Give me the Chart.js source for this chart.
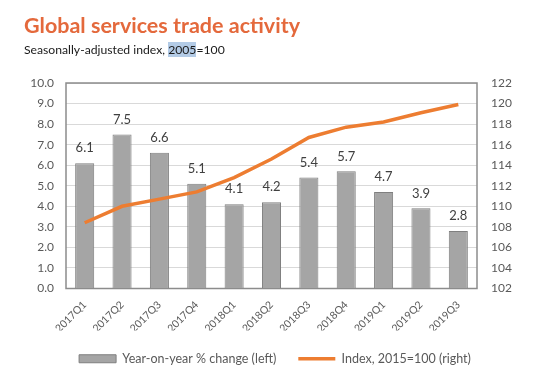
<!DOCTYPE html>
<html>
<head>
<meta charset="utf-8">
<script src="https://cdn.jsdelivr.net/npm/chart.js@4"></script>
<style>
  html, body { margin: 0; padding: 0; background: #fff; }
  body { width: 538px; height: 388px; position: relative; overflow: hidden; font-family: Lato, sans-serif; }
  #title { position: absolute; left: 24px; top: 12px; font-size: 21.5px; font-weight: bold; color: #e4693c; white-space: nowrap; z-index: 2; }
  #subtitle { position: absolute; left: 24px; top: 42px; font-size: 12.2px; color: #1a1a1a; white-space: nowrap; z-index: 2; }
  #subtitle .sel { background: #b3cbe6; }
  #wrap { position: absolute; left: 0; top: 0; width: 538px; height: 388px; }
</style>
</head>
<body>
<div id="title">Global services trade activity</div>
<div id="subtitle">Seasonally-adjusted index, <span class="sel">2005</span>=100</div>
<div id="wrap"><canvas id="chart" width="538" height="388"></canvas></div>
<script>
const quarters = ['2017Q1', '2017Q2', '2017Q3', '2017Q4', '2018Q1', '2018Q2', '2018Q3', '2018Q4', '2019Q1', '2019Q2', '2019Q3'];
const yoyChange = [6.1, 7.5, 6.6, 5.1, 4.1, 4.2, 5.4, 5.7, 4.7, 3.9, 2.8];
const indexValues = [108.4, 110.0, 110.7, 111.4, 112.8, 114.6, 116.7, 117.7, 118.2, 119.1, 119.9];

// value labels above the bars + frame round the plot area
const barLabels = {
  id: 'barLabels',
  afterDatasetsDraw(chart) {
    const ctx = chart.ctx;
    const meta = chart.getDatasetMeta(1);
    ctx.save();
    ctx.font = '13px Lato';
    ctx.fillStyle = '#404040';
    ctx.textAlign = 'center';
    ctx.textBaseline = 'middle';
    meta.data.forEach((bar, i) => {
      ctx.fillText(yoyChange[i].toFixed(1), bar.x, bar.y - 15);
    });
    ctx.restore();
  },
  beforeDatasetsDraw(chart) {
    const a = chart.chartArea;
    const ctx = chart.ctx;
    ctx.save();
    ctx.strokeStyle = '#8c8c8c';
    ctx.lineWidth = 1.5;
    ctx.strokeRect(a.left, a.top, a.right - a.left, a.bottom - a.top);
    ctx.restore();
  }
};

new Chart(document.getElementById('chart'), {
  type: 'bar',
  data: {
    labels: quarters,
    datasets: [{
      type: 'line',
      label: 'Index, 2015=100 (right)',
      data: indexValues,
      yAxisID: 'y1',
      borderColor: '#ed7d31',
      backgroundColor: '#ed7d31',
      borderWidth: 3.5,
      pointRadius: 0,
      pointStyle: 'line',
      tension: 0,
      order: 0
    }, {
      label: 'Year-on-year % change (left)',
      data: yoyChange,
      yAxisID: 'y',
      backgroundColor: '#a5a5a5',
      borderColor: '#7f7f7f',
      borderWidth: 1,
      pointStyle: 'rect',
      barPercentage: 0.51,
      categoryPercentage: 1,
      order: 1
    }]
  },
  options: {
    responsive: false,
    animation: false,
    layout: { padding: { top: 83, left: 12, right: 0, bottom: 13 } },
    scales: {
      x: {
        grid: { display: false, drawTicks: false },
        border: { display: false },
        afterFit: s => { s.height = 42; },
        ticks: {
          color: '#595959',
          font: { family: 'Lato', size: 10.5 },
          maxRotation: 45,
          minRotation: 45,
          padding: 10
        }
      },
      y: {
        position: 'left',
        min: 0,
        max: 10,
        afterFit: s => { s.width = 54; },
        grid: { color: '#d9d9d9', drawTicks: false },
        border: { display: false },
        ticks: {
          stepSize: 1,
          color: '#595959',
          font: { family: 'Lato', size: 12 },
          padding: 12,
          callback: v => v.toFixed(1)
        }
      },
      y1: {
        position: 'right',
        min: 102,
        max: 122,
        afterFit: s => { s.width = 61; },
        grid: { display: false, drawTicks: false },
        border: { display: false },
        ticks: {
          stepSize: 2,
          color: '#595959',
          font: { family: 'Lato', size: 12 },
          padding: 14
        }
      }
    },
    plugins: {
      legend: {
        position: 'bottom',
        reverse: true,
        labels: {
          usePointStyle: true,
          pointStyleWidth: 37,
          boxHeight: 8,
          padding: 22,
          color: '#595959',
          font: { family: 'Lato', size: 12.5 }
        }
      },
      tooltip: { enabled: false }
    }
  },
  plugins: [barLabels]
});
</script>
</body>
</html>
